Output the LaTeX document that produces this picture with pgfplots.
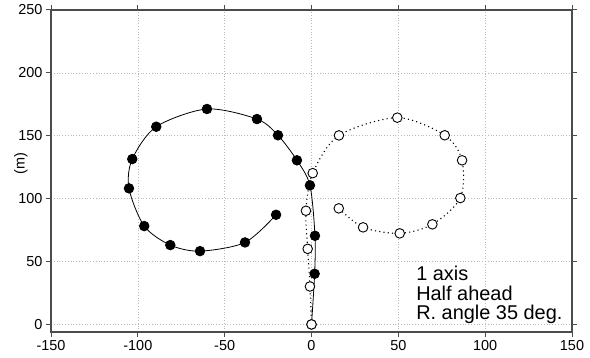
\documentclass[border=0pt]{standalone}
\usepackage{fontspec}
\setmainfont{Liberation Sans}
\usepackage{pgfplots}
\pgfplotsset{compat=1.18}
\begin{document}
\begin{tikzpicture}
\useasboundingbox (-51bp,-25.3bp) rectangle (539bp,332bp);
\begin{axis}[
  scale only axis, width=521bp, height=322bp,
  anchor=south west, at={(0,0)},
  xmin=-150, xmax=150, ymin=-6, ymax=250,
  xtick={-150,-100,-50,0,50,100,150},
  xticklabels={-150,-100,-50,0,50,100,150},
  ytick={0,50,100,150,200,250},
  yticklabels={0,50,100,150,200,250},
  tick align=outside, major tick length=5bp,
  tick style={gray!60!black, line width=1bp},
  axis line style={gray!60!black, line width=1.3bp},
  grid=major,
  major grid style={gray!55, dash pattern=on 0.8bp off 2bp, line width=0.6bp},
  ticklabel style={font=\fontsize{14.5}{16}\selectfont},
  ylabel={(m)},
  ylabel style={at={(axis description cs:-0.058,0.523)}, anchor=center, font=\fontsize{14.5}{16}\selectfont},
  clip=false,
]
\addplot[black, line width=0.8bp, smooth, tension=0.5, mark=*, mark size=4.8bp, mark options={solid, fill=black}]
coordinates {
(0,0) (1.8,40.3) (2.0,70.5) (-0.9,110.6) (-8.4,130.5) (-19.3,150.4) (-31.4,163.3)
(-60.2,171.3) (-89.4,157.2) (-103.2,131.5) (-105.1,108.2) (-96.3,78.2) (-81.3,63.1)
(-64.2,58.3) (-38.3,65.2) (-20.4,87.2)
};
\addplot[black, line width=1.1bp, smooth, tension=0.5, dash pattern=on 1.1bp off 3.2bp, mark=*, mark size=4.8bp, mark options={solid, fill=white, line width=0.9bp}]
coordinates {
(0,0) (-0.9,30.2) (-2.2,60.1) (-3.2,90.4) (0.7,120.3) (15.8,150.3) (49.4,164.4)
(76.7,150.4) (86.7,130.5) (85.7,100.5) (69.6,79.6) (50.8,72.4) (29.7,77.2) (15.7,92.3)
};
\node[anchor=base west, inner sep=0, font=\fontsize{20}{22}\selectfont] at (axis cs:60.2,35.2) {1 axis};
\node[anchor=base west, inner sep=0, font=\fontsize{20}{22}\selectfont] at (axis cs:60.2,18.7) {Half ahead};
\node[anchor=base west, inner sep=0, font=\fontsize{20}{22}\selectfont] at (axis cs:60.2,3.9) {R. angle 35 deg.};
\end{axis}
\end{tikzpicture}
\end{document}
